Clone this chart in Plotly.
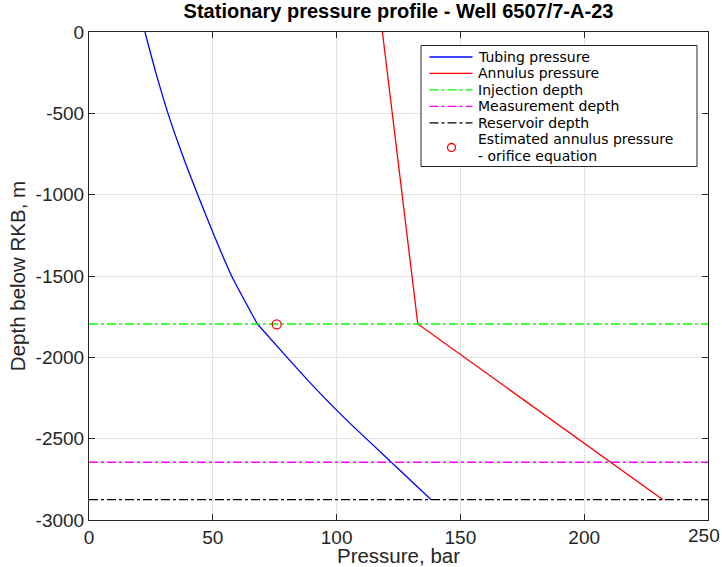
import plotly.graph_objects as go

# Data
tubing_depth_upper = [0, -250, -500, -750, -1000, -1250, -1500, -1795]
tubing_pressure_upper = [22.6, 27.0, 31.9, 37.6, 43.9, 50.5, 57.6, 68.0]
tubing_depth_lower = [-1795, -2000, -2200, -2400, -2643, -2875]
tubing_pressure_lower = [68.0, 80.0, 92.0, 105.0, 122.0, 138.2]

annulus_depth = [0, -1795, -2875]
annulus_pressure = [118.5, 132.8, 231.8]

injection_depth = -1795
measurement_depth = -2645
reservoir_depth = -2875

orifice_pressure = [75.8]
orifice_depth = [-1798]

x_range = [0, 250]
x_ticks = [0, 50, 100, 150, 200, 250]
x_tick_text = ["0", "50", "100", "150", "200", ""]   # last label placed separately so it stays inside the page
last_x_label = "250"
y_ticks = [0, -500, -1000, -1500, -2000, -2500, -3000]
y_tick_text = ["0", "-500", "-1000", "-1500", "-2000", "-2500", "-3000"]

legend_labels = ["Tubing pressure", "Annulus pressure", "Injection depth",
                 "Measurement depth", "Reservoir depth"]
legend_colors = ["#0000ff", "#ff0000", "#00ff00", "#ff00ff", "#000000"]
legend_dashes = ["solid", "solid", "dashdot", "dashdot", "dashdot"]
marker_label_lines = ["Estimated annulus pressure", "- orifice equation"]

FONT = "Liberation Sans, Arial, Helvetica, sans-serif"
LEG_FONT = "DejaVu Sans, sans-serif"
LW = 1.3

fig = go.Figure()
fig.add_trace(go.Scatter(x=tubing_pressure_upper, y=tubing_depth_upper, mode="lines",
                         line=dict(color=legend_colors[0], width=LW, shape="spline", smoothing=0.6)))
fig.add_trace(go.Scatter(x=tubing_pressure_lower, y=tubing_depth_lower, mode="lines",
                         line=dict(color=legend_colors[0], width=LW, shape="spline", smoothing=0.4)))
fig.add_trace(go.Scatter(x=annulus_pressure, y=annulus_depth, mode="lines",
                         line=dict(color=legend_colors[1], width=LW)))
for depth, col in zip([injection_depth, measurement_depth, reservoir_depth], legend_colors[2:]):
    fig.add_trace(go.Scatter(x=x_range, y=[depth] * 2, mode="lines",
                             line=dict(color=col, width=LW, dash="dashdot")))
fig.add_trace(go.Scatter(x=orifice_pressure, y=orifice_depth, mode="markers",
                         marker=dict(symbol="circle-open", color="#ff0000", size=9, line=dict(width=1.3))))

axis_common = dict(showgrid=True, gridcolor="#e3e3e3", gridwidth=1, zeroline=False,
                   showline=True, linecolor="#262626", linewidth=1, mirror="allticks",
                   ticks="inside", ticklen=6, tickcolor="#262626",
                   automargin=False,
                   tickfont=dict(family=FONT, size=19, color="#262626"))

# Plot-area geometry (pixels) for the hand-built legend box
L, R, T, B = 89, 708, 32, 520
def px(x):
    return (x - L) / (R - L)
def py(y):
    return (B - y) / (B - T)

shapes = [dict(type="rect", xref="paper", yref="paper", x0=px(421), x1=px(697), y0=py(166.5), y1=py(45.5),
               line=dict(color="#262626", width=1), fillcolor="white", layer="above")]
annotations = []
ROW0, ROWSTEP = 57.0, 16.45
for i, (lab, col, dash) in enumerate(zip(legend_labels, legend_colors, legend_dashes)):
    yy = ROW0 + i * ROWSTEP
    shapes.append(dict(type="line", xref="paper", yref="paper", x0=px(429.5), x1=px(472.5),
                       y0=py(yy), y1=py(yy), line=dict(color=col, width=LW, dash=dash), layer="above"))
    annotations.append(dict(text=lab, xref="paper", yref="paper", x=px(477), y=py(yy),
                            xanchor="left", yanchor="middle", showarrow=False, borderpad=0,
                            font=dict(family=LEG_FONT, size=14, color="#000000")))
for j, lab in enumerate(marker_label_lines):
    yy = ROW0 + (5 + j) * ROWSTEP
    annotations.append(dict(text=lab, xref="paper", yref="paper", x=px(477), y=py(yy),
                            xanchor="left", yanchor="middle", showarrow=False, borderpad=0,
                            font=dict(family=LEG_FONT, size=14, color="#000000")))
shapes.append(dict(type="circle", xref="paper", yref="paper", xsizemode="pixel", ysizemode="pixel",
                   xanchor=px(451.5), yanchor=py(ROW0 + 5.5 * ROWSTEP), x0=-4, x1=4, y0=-4, y1=4,
                   line=dict(color="#ff0000", width=1.3), layer="above"))

# last x tick label, right-aligned just inside the page edge
annotations.append(dict(text=last_x_label, xref="x", yref="paper", x=x_range[1], y=0,
                        xanchor="right", yanchor="top", xshift=13, yshift=-4, showarrow=False,
                        borderpad=0, font=dict(family=FONT, size=19, color="#262626")))

fig.update_layout(
    width=722, height=567,
    margin=dict(l=L, r=722 - R, t=T, b=567 - B, autoexpand=False),
    paper_bgcolor="white", plot_bgcolor="white",
    showlegend=False,
    title=dict(text="<b>Stationary pressure profile - Well 6507/7-A-23</b>",
               x=0.5, xanchor="center", xref="paper", y=1, yref="container", yanchor="top",
               pad=dict(t=4), font=dict(family=FONT, size=20, color="#000000")),
    xaxis=dict(range=x_range, tickvals=x_ticks, ticktext=x_tick_text,
               title=dict(text="Pressure, bar", font=dict(family=FONT, size=20.5, color="#262626"), standoff=0),
               **axis_common),
    yaxis=dict(range=[-3000, 0], tickvals=y_ticks, ticktext=y_tick_text,
               title=dict(text="Depth below RKB, m", font=dict(family=FONT, size=20.5, color="#262626"), standoff=4),
               **axis_common),
    shapes=shapes,
    annotations=annotations,
)

fig.write_html("out.html")
